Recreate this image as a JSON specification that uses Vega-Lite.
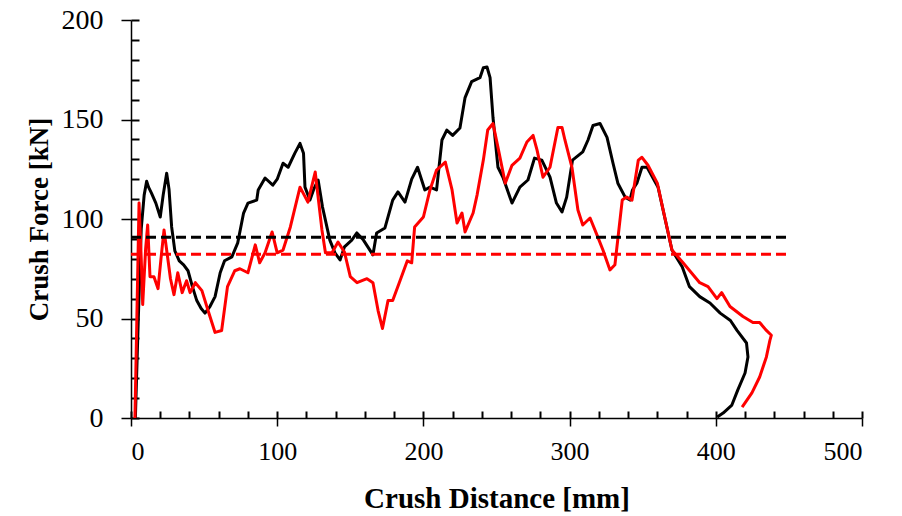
{
  "$schema": "https://vega.github.io/schema/vega-lite/v6.json",
  "width": 731,
  "height": 398,
  "autosize": "none",
  "padding": {"left": 131, "top": 20, "right": 40, "bottom": 98},
  "background": "white",
  "config": {
    "view": {"stroke": null},
    "axis": {
      "grid": false,
      "domainColor": "black",
      "domainWidth": 1.5,
      "tickColor": "black",
      "tickWidth": 1.5,
      "labelFont": "Liberation Serif",
      "labelColor": "black",
      "titleFont": "Liberation Serif",
      "titleFontWeight": "bold",
      "titleColor": "black"
    }
  },
  "datasets": {
    "curves": [
      {"s":"A","i":0,"x":3,"y":0},{"s":"A","i":1,"x":5,"y":50},{"s":"A","i":2,"x":7,"y":95},{"s":"A","i":3,"x":9,"y":112},{"s":"A","i":4,"x":10.7,"y":119},{"s":"A","i":5,"x":12,"y":116},{"s":"A","i":6,"x":14,"y":113},{"s":"A","i":7,"x":17,"y":108},{"s":"A","i":8,"x":20,"y":101},{"s":"A","i":9,"x":22,"y":112},{"s":"A","i":10,"x":24.4,"y":123},{"s":"A","i":11,"x":26,"y":115},{"s":"A","i":12,"x":27.8,"y":96},{"s":"A","i":13,"x":30,"y":84},{"s":"A","i":14,"x":33,"y":79},{"s":"A","i":15,"x":36,"y":77},{"s":"A","i":16,"x":39,"y":74},{"s":"A","i":17,"x":42,"y":66},{"s":"A","i":18,"x":45,"y":59},{"s":"A","i":19,"x":48,"y":55},{"s":"A","i":20,"x":50.6,"y":52.7},{"s":"A","i":21,"x":54,"y":56},{"s":"A","i":22,"x":57.5,"y":61},{"s":"A","i":23,"x":61,"y":73},{"s":"A","i":24,"x":64,"y":79},{"s":"A","i":25,"x":69,"y":81},{"s":"A","i":26,"x":73,"y":88},{"s":"A","i":27,"x":77,"y":103},{"s":"A","i":28,"x":80,"y":108},{"s":"A","i":29,"x":86,"y":109.5},{"s":"A","i":30,"x":87,"y":114.6},{"s":"A","i":31,"x":91.7,"y":120.6},{"s":"A","i":32,"x":97,"y":117},{"s":"A","i":33,"x":100,"y":120},{"s":"A","i":34,"x":104,"y":128},{"s":"A","i":35,"x":107.5,"y":126},{"s":"A","i":36,"x":112,"y":133},{"s":"A","i":37,"x":115.6,"y":138},{"s":"A","i":38,"x":118,"y":133},{"s":"A","i":39,"x":119,"y":116},{"s":"A","i":40,"x":122.4,"y":109.5},{"s":"A","i":41,"x":125,"y":115},{"s":"A","i":42,"x":128,"y":119.6},{"s":"A","i":43,"x":131,"y":106},{"s":"A","i":44,"x":136,"y":89.4},{"s":"A","i":45,"x":139.5,"y":83},{"s":"A","i":46,"x":143,"y":79.4},{"s":"A","i":47,"x":146,"y":86},{"s":"A","i":48,"x":151,"y":89.4},{"s":"A","i":49,"x":154.5,"y":93},{"s":"A","i":50,"x":159,"y":89.4},{"s":"A","i":51,"x":165.5,"y":82},{"s":"A","i":52,"x":168,"y":93},{"s":"A","i":53,"x":173.7,"y":95.5},{"s":"A","i":54,"x":179,"y":109.5},{"s":"A","i":55,"x":182.6,"y":113.6},{"s":"A","i":56,"x":187.4,"y":108.5},{"s":"A","i":57,"x":192,"y":120},{"s":"A","i":58,"x":196,"y":126},{"s":"A","i":59,"x":201,"y":114.6},{"s":"A","i":60,"x":204.5,"y":116},{"s":"A","i":61,"x":209,"y":114.6},{"s":"A","i":62,"x":212.7,"y":139.7},{"s":"A","i":63,"x":216,"y":144.7},{"s":"A","i":64,"x":220,"y":142},{"s":"A","i":65,"x":225,"y":145.7},{"s":"A","i":66,"x":228.5,"y":161},{"s":"A","i":67,"x":233,"y":169},{"s":"A","i":68,"x":238.7,"y":171},{"s":"A","i":69,"x":241,"y":176},{"s":"A","i":70,"x":243.5,"y":176.4},{"s":"A","i":71,"x":245.6,"y":171},{"s":"A","i":72,"x":247.6,"y":151},{"s":"A","i":73,"x":251,"y":126},{"s":"A","i":74,"x":254.4,"y":121},{"s":"A","i":75,"x":260.6,"y":108},{"s":"A","i":76,"x":266,"y":116},{"s":"A","i":77,"x":271.5,"y":119.6},{"s":"A","i":78,"x":276,"y":130.6},{"s":"A","i":79,"x":281,"y":129.6},{"s":"A","i":80,"x":286.6,"y":121},{"s":"A","i":81,"x":291,"y":108},{"s":"A","i":82,"x":294.8,"y":103.5},{"s":"A","i":83,"x":298,"y":111},{"s":"A","i":84,"x":302,"y":129.6},{"s":"A","i":85,"x":309,"y":133.7},{"s":"A","i":86,"x":312.6,"y":139.7},{"s":"A","i":87,"x":316,"y":147},{"s":"A","i":88,"x":320.8,"y":148},{"s":"A","i":89,"x":325.6,"y":141},{"s":"A","i":90,"x":329.7,"y":128},{"s":"A","i":91,"x":333,"y":118},{"s":"A","i":92,"x":338,"y":111},{"s":"A","i":93,"x":341.3,"y":109.5},{"s":"A","i":94,"x":343,"y":114.6},{"s":"A","i":95,"x":346,"y":118},{"s":"A","i":96,"x":349.5,"y":126},{"s":"A","i":97,"x":353,"y":126},{"s":"A","i":98,"x":356,"y":122},{"s":"A","i":99,"x":360.5,"y":116},{"s":"A","i":100,"x":365,"y":101},{"s":"A","i":101,"x":370,"y":84.4},{"s":"A","i":102,"x":377,"y":76},{"s":"A","i":103,"x":382,"y":66},{"s":"A","i":104,"x":389,"y":61},{"s":"A","i":105,"x":396,"y":57.8},{"s":"A","i":106,"x":403,"y":52.7},{"s":"A","i":107,"x":410,"y":49},{"s":"A","i":108,"x":414.5,"y":44},{"s":"A","i":109,"x":421,"y":37.7},{"s":"A","i":110,"x":422,"y":30.7},{"s":"A","i":111,"x":420,"y":22.6},{"s":"A","i":112,"x":415,"y":14},{"s":"A","i":113,"x":411,"y":6.5},{"s":"A","i":114,"x":405,"y":2.5},{"s":"A","i":115,"x":401,"y":0.5},
      {"s":"B","i":0,"x":2.7,"y":0},{"s":"B","i":1,"x":4,"y":50},{"s":"B","i":2,"x":5.5,"y":108},{"s":"B","i":3,"x":7,"y":80},{"s":"B","i":4,"x":8,"y":57},{"s":"B","i":5,"x":10,"y":85},{"s":"B","i":6,"x":11.4,"y":97},{"s":"B","i":7,"x":13,"y":71},{"s":"B","i":8,"x":15.7,"y":71},{"s":"B","i":9,"x":18.5,"y":65},{"s":"B","i":10,"x":20.5,"y":80},{"s":"B","i":11,"x":22.6,"y":94.5},{"s":"B","i":12,"x":25,"y":81},{"s":"B","i":13,"x":27,"y":70},{"s":"B","i":14,"x":29.4,"y":62},{"s":"B","i":15,"x":32,"y":73},{"s":"B","i":16,"x":35,"y":63},{"s":"B","i":17,"x":38,"y":69},{"s":"B","i":18,"x":40.4,"y":63},{"s":"B","i":19,"x":44,"y":68},{"s":"B","i":20,"x":48.5,"y":64},{"s":"B","i":21,"x":52.7,"y":54},{"s":"B","i":22,"x":57.5,"y":43},{"s":"B","i":23,"x":62,"y":44},{"s":"B","i":24,"x":66,"y":66},{"s":"B","i":25,"x":71,"y":74},{"s":"B","i":26,"x":74.5,"y":75},{"s":"B","i":27,"x":80,"y":73},{"s":"B","i":28,"x":85,"y":87},{"s":"B","i":29,"x":88,"y":78},{"s":"B","i":30,"x":91.7,"y":83},{"s":"B","i":31,"x":96.5,"y":93.5},{"s":"B","i":32,"x":100,"y":83},{"s":"B","i":33,"x":104,"y":84.4},{"s":"B","i":34,"x":109,"y":96},{"s":"B","i":35,"x":115.6,"y":116},{"s":"B","i":36,"x":121,"y":108.5},{"s":"B","i":37,"x":126,"y":123.6},{"s":"B","i":38,"x":130.6,"y":94.5},{"s":"B","i":39,"x":133,"y":83},{"s":"B","i":40,"x":137.5,"y":83},{"s":"B","i":41,"x":141.6,"y":88.4},{"s":"B","i":42,"x":146,"y":83.4},{"s":"B","i":43,"x":150,"y":71},{"s":"B","i":44,"x":154.6,"y":68},{"s":"B","i":45,"x":161.4,"y":70},{"s":"B","i":46,"x":165.5,"y":68},{"s":"B","i":47,"x":169,"y":54},{"s":"B","i":48,"x":172,"y":45},{"s":"B","i":49,"x":175.8,"y":59},{"s":"B","i":50,"x":179,"y":59},{"s":"B","i":51,"x":184,"y":69},{"s":"B","i":52,"x":189,"y":79},{"s":"B","i":53,"x":192,"y":78},{"s":"B","i":54,"x":194,"y":96},{"s":"B","i":55,"x":200,"y":101},{"s":"B","i":56,"x":204.5,"y":114.6},{"s":"B","i":57,"x":209,"y":124.6},{"s":"B","i":58,"x":215,"y":128.6},{"s":"B","i":59,"x":219.6,"y":114.6},{"s":"B","i":60,"x":223,"y":98},{"s":"B","i":61,"x":226.4,"y":103},{"s":"B","i":62,"x":228.5,"y":93.5},{"s":"B","i":63,"x":234,"y":103},{"s":"B","i":64,"x":236.7,"y":112},{"s":"B","i":65,"x":241,"y":129.6},{"s":"B","i":66,"x":244,"y":144.7},{"s":"B","i":67,"x":247.6,"y":148},{"s":"B","i":68,"x":251,"y":136},{"s":"B","i":69,"x":256,"y":118},{"s":"B","i":70,"x":260.6,"y":127},{"s":"B","i":71,"x":266,"y":130.6},{"s":"B","i":72,"x":270.8,"y":138.7},{"s":"B","i":73,"x":275,"y":142},{"s":"B","i":74,"x":277.7,"y":134.7},{"s":"B","i":75,"x":281.8,"y":121},{"s":"B","i":76,"x":286.6,"y":126},{"s":"B","i":77,"x":292,"y":146},{"s":"B","i":78,"x":294.8,"y":146},{"s":"B","i":79,"x":296.8,"y":139.7},{"s":"B","i":80,"x":301.6,"y":126},{"s":"B","i":81,"x":305.7,"y":104.5},{"s":"B","i":82,"x":309,"y":97},{"s":"B","i":83,"x":314,"y":100.5},{"s":"B","i":84,"x":318.7,"y":92},{"s":"B","i":85,"x":322.8,"y":84.4},{"s":"B","i":86,"x":327.6,"y":74.4},{"s":"B","i":87,"x":331,"y":77},{"s":"B","i":88,"x":336,"y":109.5},{"s":"B","i":89,"x":339,"y":111},{"s":"B","i":90,"x":342.7,"y":109.5},{"s":"B","i":91,"x":347,"y":129.6},{"s":"B","i":92,"x":349.5,"y":131},{"s":"B","i":93,"x":353.6,"y":127},{"s":"B","i":94,"x":360,"y":118},{"s":"B","i":95,"x":364,"y":104.5},{"s":"B","i":96,"x":370,"y":84.4},{"s":"B","i":97,"x":377.6,"y":78},{"s":"B","i":98,"x":389,"y":68},{"s":"B","i":99,"x":394.7,"y":66},{"s":"B","i":100,"x":400.8,"y":60},{"s":"B","i":101,"x":404,"y":63},{"s":"B","i":102,"x":409.7,"y":56},{"s":"B","i":103,"x":418.6,"y":51},{"s":"B","i":104,"x":425.4,"y":48},{"s":"B","i":105,"x":430,"y":48},{"s":"B","i":106,"x":434.6,"y":44},{"s":"B","i":107,"x":438,"y":41.6},{"s":"B","i":108,"x":437,"y":39},{"s":"B","i":109,"x":434.6,"y":30.7},{"s":"B","i":110,"x":430,"y":20.6},{"s":"B","i":111,"x":424.7,"y":12.6},{"s":"B","i":112,"x":418,"y":5.5}
    ],
    "means": [
      {"s":"A","x":0,"y":90.8},{"s":"A","x":450,"y":90.8},
      {"s":"B","x":0,"y":82.3},{"s":"B","x":450,"y":82.3}
    ]
  },
  "layer": [
    {
      "data": {"name": "curves"},
      "mark": {"type": "line", "strokeWidth": 3, "strokeJoin": "round"},
      "encoding": {
        "x": {"field": "x", "type": "quantitative", "scale": {"domain": [0, 500], "nice": false},
          "axis": {"title": "Crush Distance [mm]", "values": [0,100,200,300,400,500], "tickSize": 8, "labelFontSize": 26, "labelPadding": 12, "titleFontSize": 29, "titlePadding": 20}},
        "y": {"field": "y", "type": "quantitative", "scale": {"domain": [0, 200], "nice": false},
          "axis": {"title": "Crush Force [kN]", "values": [0,50,100,150,200], "tickSize": 10, "labelFontSize": 28, "labelPadding": 18, "titleFontSize": 27, "titlePadding": 8}},
        "color": {"field": "s", "type": "nominal", "scale": {"domain": ["A","B"], "range": ["#000000", "#ff0000"]}, "legend": null},
        "order": {"field": "i", "type": "quantitative"}
      }
    },
    {
      "data": {"name": "means"},
      "mark": {"type": "line", "strokeWidth": 3, "strokeDash": [10, 5]},
      "encoding": {
        "x": {"field": "x", "type": "quantitative",
          "axis": {"orient": "bottom", "title": null, "labels": false, "domain": false, "tickColor": "black", "tickWidth": 2, "tickSize": 7, "offset": -7, "values": [0,20,40,60,80,100,120,140,160,180,200,220,240,260,280,300,320,340,360,380,400,420,440,460,480,500]}},
        "y": {"field": "y", "type": "quantitative",
          "axis": {"orient": "left", "title": null, "labels": false, "domain": false, "tickColor": "black", "tickWidth": 2, "tickSize": 8, "offset": -8, "values": [0,10,20,30,40,50,60,70,80,90,100,110,120,130,140,150,160,170,180,190,200]}},
        "color": {"field": "s", "type": "nominal", "legend": null},
        "detail": {"field": "s"}
      }
    }
  ],
  "resolve": {"axis": {"x": "independent", "y": "independent"}}
}
